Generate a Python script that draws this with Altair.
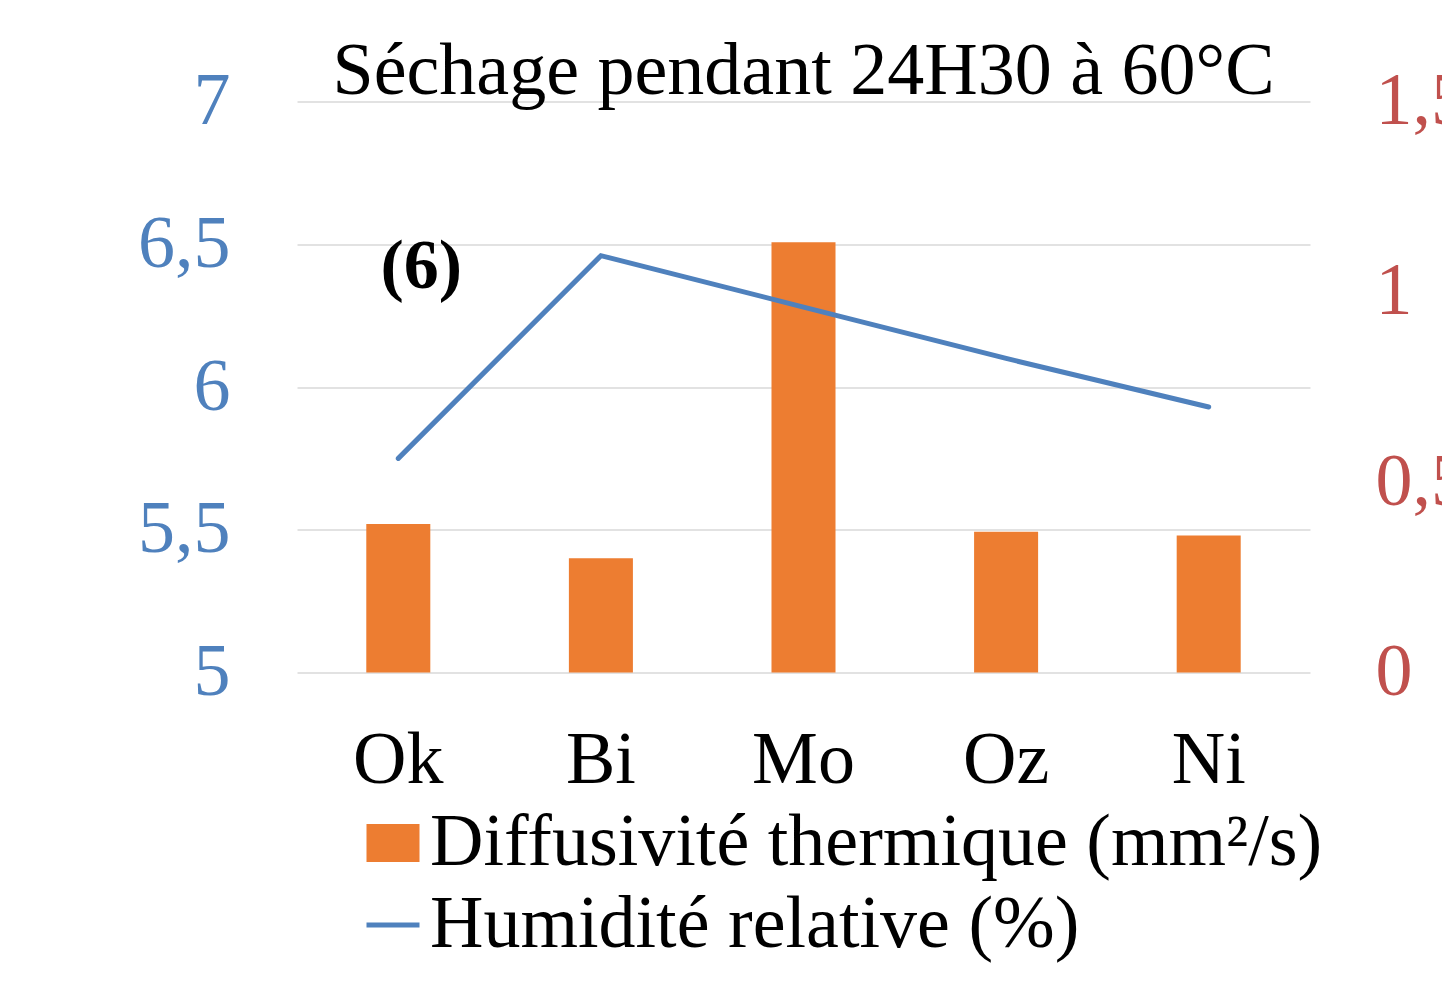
import altair as alt
import pandas as pd

categories = ["Ok", "Bi", "Mo", "Oz", "Ni"]
diffusivity = [0.39, 0.30, 1.13, 0.37, 0.36]
humidity = [5.75, 6.46, 6.28, 6.10, 5.93]
bar_series = "Diffusivité thermique (mm²/s)"
line_series = "Humidité relative (%)"
title_text = "Séchage pendant 24H30 à 60°C"
left_ticks = [5, 5.5, 6, 6.5, 7]
right_ticks = [0, 0.5, 1, 1.5]
annot_labels = ["(6)"]
annot_cat = ["Ok"]
annot_val = [6.42]

FONT = "Liberation Serif"
BLUE = "#4F81BD"
RED = "#C0504D"
ORANGE = "#ED7D31"
comma = "replace(toString(datum.value), '.', ',')"

df = pd.DataFrame({"cat": categories, "diff": diffusivity, "hum": humidity,
                   "s1": bar_series, "s2": line_series})
ann = pd.DataFrame({"cat": annot_cat, "v": annot_val, "t": annot_labels})

x = alt.X("cat:N", sort=categories,
          scale=alt.Scale(paddingInner=0.684, paddingOuter=0.342),
          axis=alt.Axis(title=None, labelAngle=0, labelFont=FONT, labelFontSize=74,
                        labelColor="black", labelPadding=52, domain=False,
                        ticks=False, grid=False))

bars = alt.Chart(df).mark_bar().encode(
    x=x,
    y=alt.Y("diff:Q", scale=alt.Scale(domain=[0, 1.5], nice=False, zero=True),
            axis=alt.Axis(orient="right", title=None, values=right_ticks, labelExpr=comma,
                          labelFont=FONT, labelFontSize=74, labelColor=RED,
                          labelPadding=65, labelAlign="left", domain=False,
                          ticks=False, grid=False)),
    fill=alt.Fill("s1:N", scale=alt.Scale(domain=[bar_series], range=[ORANGE]),
                  legend=alt.Legend(title=None, orient="none", legendX=59, legendY=704.5,
                                    labelFont=FONT, labelFontSize=74, labelColor="black",
                                    symbolType="M-1,-0.72H1V0.72H-1Z", symbolSize=2809,
                                    symbolStrokeWidth=0, labelOffset=0, padding=0,
                                    labelLimit=1300)),
)

line = alt.Chart(df).mark_line(strokeWidth=5, strokeCap="round").encode(
    x=x,
    y=alt.Y("hum:Q", scale=alt.Scale(domain=[5, 7], nice=False, zero=False),
            axis=alt.Axis(orient="left", title=None, values=left_ticks, labelExpr=comma,
                          labelFont=FONT, labelFontSize=74, labelColor=BLUE,
                          labelPadding=67, domain=False, ticks=False, grid=True,
                          gridColor="#D9D9D9", gridWidth=1.5)),
    stroke=alt.Stroke("s2:N", scale=alt.Scale(domain=[line_series], range=[BLUE]),
                      legend=alt.Legend(title=None, orient="none", legendX=59, legendY=786.5,
                                        labelFont=FONT, labelFontSize=74, labelColor="black",
                                        symbolType="stroke", symbolSize=2809,
                                        symbolStrokeWidth=5, labelOffset=0, padding=0,
                                        labelLimit=1300)),
)

text = alt.Chart(ann).mark_text(font=FONT, fontSize=70, fontWeight="bold", color="black",
                                dx=23, baseline="middle", align="center").encode(
    x=x,
    y=alt.Y("v:Q", scale=alt.Scale(domain=[5, 7], nice=False, zero=False), axis=None),
    text="t:N",
)

chart = alt.layer(bars, line, text).resolve_scale(y="independent").properties(
    width=1013, height=571,
    title=alt.TitleParams(text=title_text, font=FONT, fontSize=74, fontWeight="normal",
                          color="black", baseline="alphabetic", offset=-103,
                          frame="group", anchor="middle"),
    autosize=alt.AutoSizeParams(type="none"),
    padding={"left": 289, "top": 93.5, "right": 132, "bottom": 290},
).configure_view(stroke=None)

chart.save("out.html", embed_options={"renderer": "svg", "actions": False})
